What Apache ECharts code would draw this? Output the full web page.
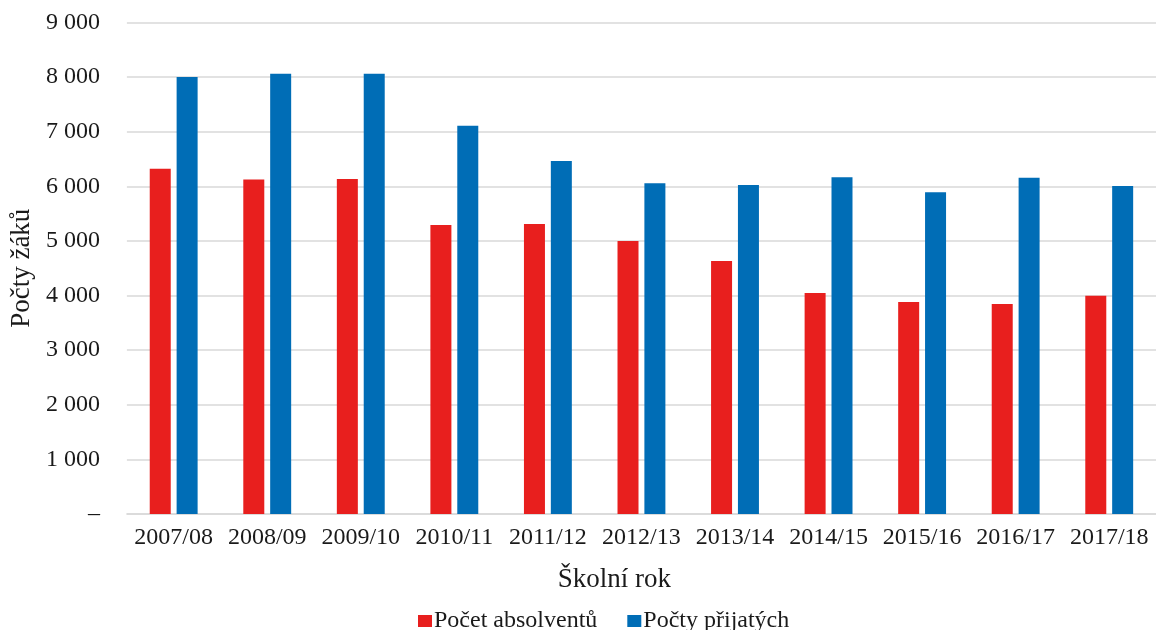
<!DOCTYPE html>
<html>
<head>
<meta charset="utf-8">
<script src="https://cdn.jsdelivr.net/npm/echarts@6/dist/echarts.min.js"></script>
<style>html,body{margin:0;padding:0;background:#fff}#c{width:1156px;height:630px}</style>
</head>
<body>
<div id="c"></div>
<script>
const categories = ['2007/08','2008/09','2009/10','2010/11','2011/12','2012/13','2013/14','2014/15','2015/16','2016/17','2017/18'];
const absolventi = [6320, 6125, 6135, 5290, 5310, 5000, 4635, 4045, 3880, 3845, 3995];
const prijati = [8000, 8060, 8060, 7110, 6465, 6055, 6025, 6165, 5890, 6155, 6005];
const seriesNames = ['Počet absolventů', 'Počty přijatých'];

const font = 'Liberation Serif, Times New Roman, serif';
const chart = echarts.init(document.getElementById('c'));
chart.setOption({
  animation: false,
  textStyle: { fontFamily: font, color: '#1a1a1a' },
  grid: { left: 126, right: -3, top: 22.5, bottom: 116 },
  legend: {
    data: seriesNames,
    top: 604,
    left: 413,
    itemWidth: 14,
    itemHeight: 12,
    itemGap: 30,
    icon: 'rect',
    textStyle: { fontFamily: font, fontSize: 24, color: '#1a1a1a', padding: [0,0,0,-3] }
  },
  xAxis: {
    type: 'category',
    data: categories,
    name: 'Školní rok',
    nameLocation: 'middle',
    nameGap: 52,
    nameTextStyle: { fontFamily: font, fontSize: 27, color: '#1a1a1a', padding: [0, 54, 0, 0] },
    axisLine: { lineStyle: { color: '#d9d9d9', width: 1.5 } },
    axisTick: { show: false },
    axisLabel: { interval: 0, fontFamily: font, fontSize: 24, color: '#1a1a1a', margin: 12 }
  },
  yAxis: {
    type: 'value',
    min: 0, max: 9000, interval: 1000,
    name: 'Počty žáků',
    nameLocation: 'middle',
    nameGap: 88,
    nameTextStyle: { fontFamily: font, fontSize: 27, color: '#1a1a1a' },
    axisLine: { show: false },
    axisTick: { show: false },
    splitLine: { lineStyle: { color: '#d9d9d9', width: 1.5 } },
    axisLabel: {
      fontFamily: font, fontSize: 24, color: '#1a1a1a', margin: 27,
      formatter: v => v === 0 ? '–' : String(v).replace(/\B(?=(\d{3})+(?!\d))/g, ' ')
    }
  },
  series: [
    { name: seriesNames[0], type: 'bar', data: absolventi, barWidth: 21, barGap: '28%', itemStyle: { color: '#E81F1E' } },
    { name: seriesNames[1], type: 'bar', data: prijati, barWidth: 21, barGap: '28%', itemStyle: { color: '#006DB6' } }
  ]
});
</script>
</body>
</html>
